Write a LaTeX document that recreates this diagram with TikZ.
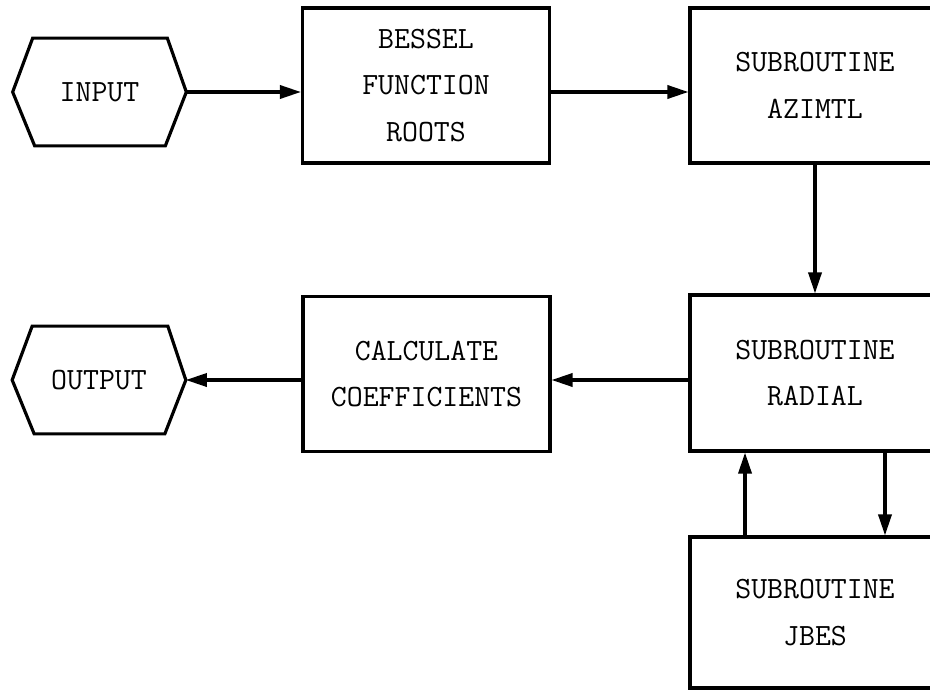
\documentclass[tikz,border=0pt]{standalone}
\usepackage{tikz}
\usetikzlibrary{arrows.meta, positioning, calc}

\tikzset{
  progbox/.style={draw, line width=1.8pt, minimum width=4.94cm, minimum height=3.1cm,
    align=center, inner sep=0pt, font=\fontsize{17.6}{26.6}\selectfont\ttfamily},
  termnode/.style={minimum width=3.46cm, minimum height=2.14cm, inner sep=0pt,
    font=\fontsize{17.6}{26.6}\selectfont\ttfamily},
  hexline/.style={line width=1.8pt, line join=miter},
  flowarrow/.style={line width=1.8pt, -{Triangle[length=12pt, width=7.5pt]}}
}

\begin{document}
\begin{tikzpicture}[x=0.02cm, y=-0.02cm]
  \clip (0,0) rectangle (930,693);

  % Terminals
  \node[termnode] (input) at (99.5, 92) {INPUT};
  \node[termnode] (output) at (99, 380) {OUTPUT};
  \draw[hexline] (input.west) -- ([xshift=0.4cm]input.north west) -- ([xshift=-0.38cm]input.north east)
    -- (input.east) -- ([xshift=-0.42cm]input.south east) -- ([xshift=0.44cm]input.south west) -- cycle;
  \draw[hexline] (output.west) -- ([xshift=0.4cm]output.north west) -- ([xshift=-0.36cm]output.north east)
    -- (output.east) -- ([xshift=-0.42cm]output.south east) -- ([xshift=0.44cm]output.south west) -- cycle;

  % Program boxes
  \node[progbox] (bessel) at (426, 85.5) {BESSEL\\FUNCTION\\ROOTS};
  \node[progbox, minimum width=5cm] (azimtl) at (815, 85.5) {SUBROUTINE\\AZIMTL};
  \node[progbox, minimum width=5cm, minimum height=3.12cm] (radial) at (815, 373) {SUBROUTINE\\RADIAL};
  \node[progbox] (calc) at (426.5, 374) {CALCULATE\\COEFFICIENTS};
  \node[progbox, minimum width=5cm, minimum height=3.02cm] (jbes) at (815, 612.5) {SUBROUTINE\\JBES};

  % Flow
  \draw[flowarrow] (input.east) -- (bessel.west |- input.east);
  \draw[flowarrow] (bessel.east |- input.east) -- (azimtl.west |- input.east);
  \draw[flowarrow] (azimtl.south) -- (radial.north);
  \draw[flowarrow] (radial.west |- output.east) -- (calc.east |- output.east);
  \draw[flowarrow] (calc.west |- output.east) -- (output.east);
  \draw[flowarrow] ([xshift=-1.4cm]jbes.north) -- ([xshift=-1.4cm]radial.south);
  \draw[flowarrow] ([xshift=1.4cm]radial.south) -- ([xshift=1.4cm]jbes.north);
\end{tikzpicture}
\end{document}
